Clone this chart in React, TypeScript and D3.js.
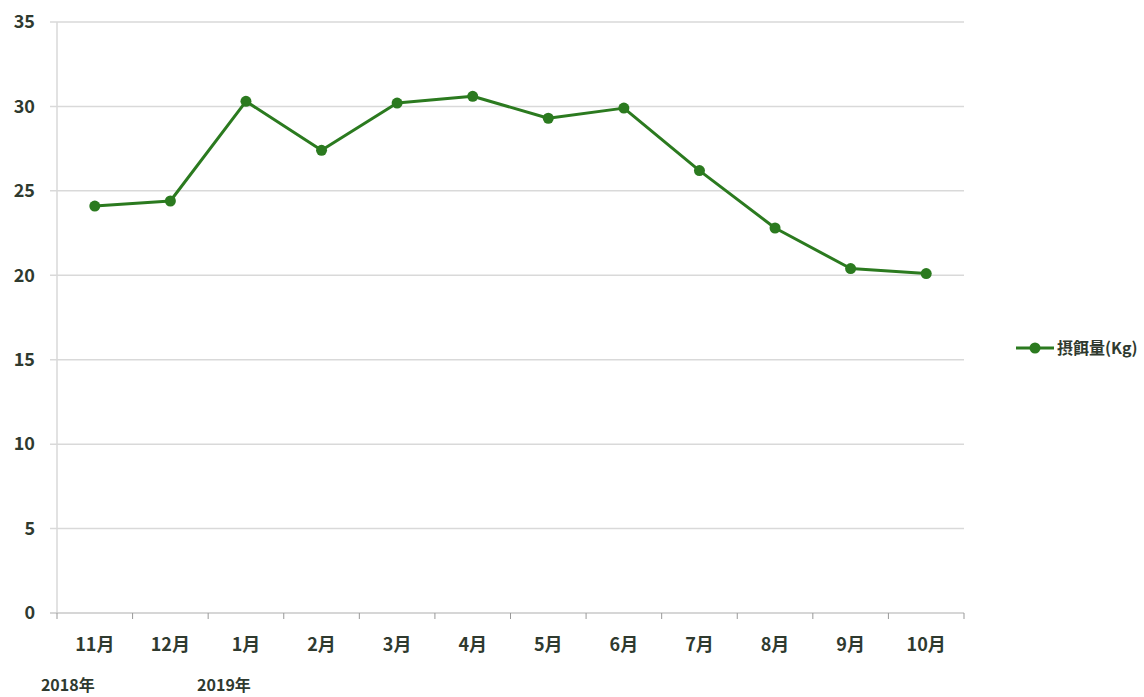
import React, { useEffect, useRef } from 'react';
import * as d3 from 'd3';

const months = ['11月', '12月', '1月', '2月', '3月', '4月', '5月', '6月', '7月', '8月', '9月', '10月'];
const feed = [24.1, 24.4, 30.3, 27.4, 30.2, 30.6, 29.3, 29.9, 26.2, 22.8, 20.4, 20.1];
const yearLabels = [
  { month: '11月', text: '2018年', dx: -27 },
  { month: '1月', text: '2019年', dx: -22 },
];
const yTicks = [0, 5, 10, 15, 20, 25, 30, 35];
const seriesName = '摂餌量(Kg)';

const W = 1144;
const H = 697;
const margin = { top: 22, left: 57, right: 180, bottom: 84 };
const green = '#2b7a1f';
const textColor = '#2f3a2f';
const font = '"Noto Sans CJK JP", "Open Sans", sans-serif';

function App() {
  const ref = useRef<SVGSVGElement>(null);

  useEffect(() => {
    const svg = d3.select(ref.current);
    svg.selectAll('*').remove();

    const x = d3.scaleBand().domain(months).range([margin.left, W - margin.right]);
    const y = d3.scaleLinear().domain([0, 35]).range([H - margin.bottom, margin.top]);
    const plotBottom = H - margin.bottom;

    // gridlines
    svg.append('g')
      .selectAll('line')
      .data(yTicks.filter(t => t > 0))
      .join('line')
      .attr('x1', margin.left - 7)
      .attr('x2', W - margin.right)
      .attr('y1', d => y(d))
      .attr('y2', d => y(d))
      .attr('stroke', '#d9d9d9')
      .attr('stroke-width', 1.5);

    // y axis line
    svg.append('line')
      .attr('x1', margin.left).attr('x2', margin.left)
      .attr('y1', y(35)).attr('y2', plotBottom)
      .attr('stroke', '#d9d9d9').attr('stroke-width', 1.5);

    // x axis
    const xAxis = svg.append('g')
      .attr('transform', `translate(0, ${plotBottom})`)
      .call(d3.axisBottom(x).tickSize(0).tickPadding(25));
    xAxis.select('.domain').attr('stroke', '#c8c8c8').attr('stroke-width', 1.5)
      .attr('d', `M${margin.left - 7},0H${W - margin.right}`);
    xAxis.selectAll('text')
      .attr('font-size', 18).attr('font-weight', 'bold')
      .attr('font-family', font).attr('fill', textColor);

    // x tick marks at band boundaries
    const bounds = months.map(m => x(m) as number).concat([W - margin.right]);
    svg.append('g')
      .selectAll('line')
      .data(bounds)
      .join('line')
      .attr('x1', d => d).attr('x2', d => d)
      .attr('y1', plotBottom).attr('y2', plotBottom + 6)
      .attr('stroke', '#999').attr('stroke-width', 1);

    // y axis labels
    svg.append('g')
      .selectAll('text')
      .data(yTicks)
      .join('text')
      .attr('x', 35)
      .attr('y', d => y(d))
      .attr('dy', '0.35em')
      .attr('text-anchor', 'end')
      .attr('font-size', 18).attr('font-weight', 'bold')
      .attr('font-family', font).attr('fill', textColor)
      .text(d => d);

    // year labels
    svg.append('g')
      .selectAll('text')
      .data(yearLabels)
      .join('text')
      .attr('x', d => (x(d.month) as number) + x.bandwidth() / 2 + d.dx)
      .attr('y', plotBottom + 78)
      .attr('text-anchor', 'middle')
      .attr('font-size', 16).attr('font-weight', 'bold')
      .attr('font-family', font).attr('fill', textColor)
      .text(d => d.text);

    const cx = (i: number) => (x(months[i]) as number) + x.bandwidth() / 2;

    const line = d3.line<number>()
      .x((_, i) => cx(i))
      .y(d => y(d));

    svg.append('path')
      .datum(feed)
      .attr('fill', 'none')
      .attr('stroke', green)
      .attr('stroke-width', 3)
      .attr('stroke-linejoin', 'round')
      .attr('d', line);

    svg.append('g')
      .selectAll('circle')
      .data(feed)
      .join('circle')
      .attr('cx', (_, i) => cx(i))
      .attr('cy', d => y(d))
      .attr('r', 5.5)
      .attr('fill', green);

    // legend
    const lg = svg.append('g').attr('transform', `translate(1016, 348)`);
    lg.append('line').attr('x1', 0).attr('x2', 38).attr('y1', 0).attr('y2', 0)
      .attr('stroke', green).attr('stroke-width', 3);
    lg.append('circle').attr('cx', 19).attr('cy', 0).attr('r', 5.5).attr('fill', green);
    lg.append('text')
      .attr('x', 41).attr('y', 0).attr('dy', '0.35em')
      .attr('font-size', 16).attr('font-weight', 'bold')
      .attr('font-family', font).attr('fill', textColor)
      .text(seriesName);
  }, []);

  return (
    <svg ref={ref} width={W} height={H}
      style={{ position: 'absolute', left: 0, top: 0, background: '#fff' }} />
  );
}

export default App;
